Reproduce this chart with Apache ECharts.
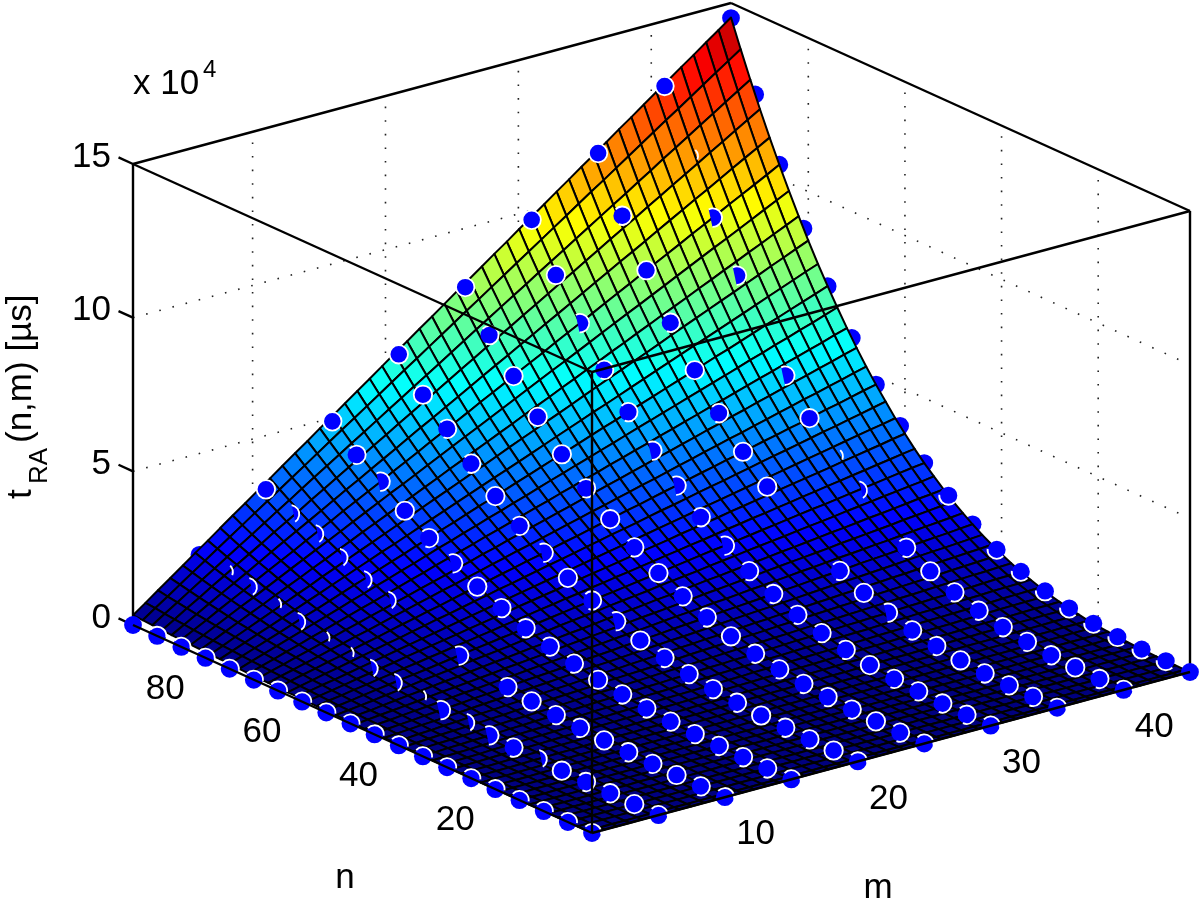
<!DOCTYPE html>
<html>
<head>
<meta charset="utf-8">
<script src="https://cdn.jsdelivr.net/npm/echarts@6/dist/echarts.min.js"></script>
<style>
html, body { margin: 0; padding: 0; background: #fff; }
#main { width: 1200px; height: 908px; }
</style>
</head>
<body>
<div id="main"></div>
<script>
// values of t are in units of 100 us (1500 = 15 x 10^4 us)
var nGrid = [1,2,4,6,8,10,12,14,16,18,20,22,24,26,28,30,32,34,36,38,40,42,44,46,48,50,52,54,56,58,60,62,64,66,68,70,72,74,76,78,80,82,84,86,88,90,92,94,96];
var mGrid = [1,1.94,2.88,3.81,4.75,5.69,6.63,7.56,8.5,9.44,10.38,11.31,12.25,13.19,14.13,15.06,16,16.94,17.88,18.81,19.75,20.69,21.63,22.56,23.5,24.44,25.38,26.31,27.25,28.19,29.13,30.06,31,31.94,32.88,33.81,34.75,35.69,36.63,37.56,38.5,39.44,40.38,41.31,42.25,43.19,44.13,45.06,46];

// one row per nGrid value, one column per mGrid value
var surfaceT = [
[0,0,0,0,0,0,0,0,0,0,0,0,0,0,0,0,0,0,0,0,0,0,0,0,0,0,0,0,0,0,0,0,0,0,0,0,0,0,0,0,0,0,0,0,0,0,0,0,0],
[0,0,0,0,0,0,0,0,0,0,0,0,0,0,0,0,0,0,0,0,0,0,0,0,0,0,0,0,0,0,0,0,0,0,0,0,0,0,0,0,0,0,0,0,0,0,0,0,0],
[0,0,0,0,0,0,0,0,0,0,0,0,0,0,0,0,0,0,0,0,0,0,0,0,0,0,0,0,0,0,0,0,0,0,0,0,0,0,0,0,0,0,0,0,0,0,0,0,0],
[0,0,0,0,0,0,0,0,0,0,0,0,0,0,0,0,0,0,0,0,0,0,0,0,0,0,0,0,0,0,0,0,0,0,0,0,0,0,0,0,0,0,0,0,0,0,0,0,0],
[0,0,0,0,0,0,0,0,0,0,0,0,0,0,0,0,0,0,0,0,0,0,0,0,0,0,0,0,0,1,1,1,1,1,1,1,1,1,1,1,1,1,1,1,1,1,1,1,1],
[0,0,0,0,0,0,0,0,0,0,0,0,0,0,1,1,1,1,1,1,1,1,1,1,1,1,1,1,1,1,1,1,1,1,1,1,1,1,1,1,1,1,1,1,2,2,2,2,2],
[0,0,0,0,0,0,0,0,1,1,1,1,1,1,1,1,1,1,1,1,1,1,1,1,1,2,2,2,2,2,2,2,2,2,2,2,2,2,2,2,2,2,2,3,3,3,3,3,3],
[0,0,0,0,0,1,1,1,1,1,1,1,1,1,1,1,2,2,2,2,2,2,2,2,2,2,2,3,3,3,3,3,3,3,3,3,3,3,4,4,4,4,4,4,4,4,4,4,5],
[0,0,0,1,1,1,1,1,1,1,2,2,2,2,2,2,2,2,3,3,3,3,3,3,3,4,4,4,4,4,4,4,5,5,5,5,5,5,5,5,6,6,6,6,6,6,6,7,7],
[0,0,1,1,1,1,1,2,2,2,2,2,3,3,3,3,3,4,4,4,4,4,5,5,5,5,5,5,6,6,6,6,6,7,7,7,7,7,8,8,8,8,8,9,9,9,9,9,10],
[0,1,1,1,1,2,2,2,2,3,3,3,3,4,4,4,5,5,5,5,6,6,6,6,7,7,7,8,8,8,8,9,9,9,9,10,10,10,10,11,11,11,12,12,12,12,13,13,13],
[0,1,1,1,2,2,3,3,3,4,4,4,5,5,5,6,6,6,7,7,8,8,8,9,9,9,10,10,10,11,11,11,12,12,13,13,13,14,14,14,15,15,15,16,16,16,17,17,17],
[0,1,1,2,2,3,3,4,4,5,5,6,6,7,7,7,8,8,9,9,10,10,11,11,12,12,13,13,13,14,14,15,15,16,16,17,17,18,18,19,19,19,20,20,21,21,22,22,23],
[1,1,2,2,3,4,4,5,5,6,7,7,8,8,9,9,10,11,11,12,12,13,14,14,15,15,16,17,17,18,18,19,19,20,21,21,22,22,23,24,24,25,25,26,27,27,28,28,29],
[1,2,2,3,4,4,5,6,7,7,8,9,10,10,11,12,13,13,14,15,15,16,17,18,18,19,20,21,21,22,23,24,24,25,26,27,27,28,29,29,30,31,32,32,33,34,35,35,36],
[1,2,3,4,5,5,6,7,8,9,10,11,12,13,14,15,15,16,17,18,19,20,21,22,23,24,24,25,26,27,28,29,30,31,32,33,34,34,35,36,37,38,39,40,41,42,43,43,44],
[1,2,3,4,6,7,8,9,10,11,12,13,14,15,17,18,19,20,21,22,23,24,25,26,27,29,30,31,32,33,34,35,36,37,38,40,41,42,43,44,45,46,47,48,49,51,52,53,54],
[1,3,4,5,7,8,9,11,12,13,15,16,17,19,20,21,22,24,25,26,28,29,30,32,33,34,36,37,38,40,41,42,44,45,46,47,49,50,51,53,54,55,57,58,59,61,62,63,65],
[2,3,5,6,8,9,11,13,14,16,17,19,20,22,24,25,27,28,30,31,33,34,36,38,39,41,42,44,45,47,49,50,52,53,55,56,58,59,61,63,64,66,67,69,70,72,74,75,77],
[2,4,6,7,9,11,13,15,17,18,20,22,24,26,28,30,31,33,35,37,39,41,42,44,46,48,50,52,53,55,57,59,61,63,64,66,68,70,72,74,75,77,79,81,83,85,86,88,90],
[2,4,7,9,11,13,15,17,19,22,24,26,28,30,32,34,37,39,41,43,45,47,49,52,54,56,58,60,62,64,67,69,71,73,75,77,79,82,84,86,88,90,92,94,97,99,101,103,105],
[3,5,8,10,13,15,18,20,22,25,27,30,32,35,37,40,42,45,47,50,52,55,57,60,62,65,67,70,72,75,77,80,82,84,87,89,92,94,97,99,102,104,107,109,112,114,117,119,122],
[3,6,9,12,14,17,20,23,26,29,32,34,37,40,43,46,49,52,54,57,60,63,66,69,71,74,77,80,83,86,89,91,94,97,100,103,106,109,111,114,117,120,123,126,129,131,134,137,140],
[3,7,10,13,17,20,23,26,30,33,36,39,43,46,49,52,56,59,62,65,69,72,75,78,82,85,88,91,95,98,101,104,108,111,114,118,121,124,127,131,134,137,140,144,147,150,153,157,160],
[4,8,11,15,19,22,26,30,34,37,41,45,48,52,56,59,63,67,71,74,78,82,85,89,93,97,100,104,108,111,115,119,122,126,130,134,137,141,145,148,152,156,159,163,167,171,174,178,182],
[4,9,13,17,21,25,30,34,38,42,46,50,55,59,63,67,71,76,80,84,88,92,97,101,105,109,113,117,122,126,130,134,138,143,147,151,155,159,163,168,172,176,180,184,189,193,197,201,205],
[5,10,14,19,24,29,33,38,43,47,52,57,62,66,71,76,80,85,90,94,99,104,109,113,118,123,127,132,137,142,146,151,156,160,165,170,174,179,184,189,193,198,203,207,212,217,222,226,231],
[6,11,16,21,27,32,37,43,48,53,58,64,69,74,79,85,90,95,101,106,111,116,122,127,132,137,143,148,153,158,164,169,174,180,185,190,195,201,206,211,216,222,227,232,238,243,248,253,259],
[6,12,18,24,30,36,42,47,53,59,65,71,77,83,89,94,100,106,112,118,124,130,136,141,147,153,159,165,171,177,183,189,194,200,206,212,218,224,230,236,241,247,253,259,265,271,277,283,288],
[7,14,20,27,33,40,46,53,59,66,72,79,85,92,98,105,111,118,125,131,138,144,151,157,164,170,177,183,190,196,203,209,216,223,229,236,242,249,255,262,268,275,281,288,294,301,307,314,320],
[8,15,22,29,37,44,51,58,66,73,80,87,94,102,109,116,123,131,138,145,152,160,167,174,181,188,196,203,210,217,225,232,239,246,254,261,268,275,283,290,297,304,311,319,326,333,340,348,355],
[9,17,25,32,40,48,56,64,72,80,88,96,104,112,120,128,136,144,152,160,168,176,184,192,200,208,216,224,232,240,248,256,264,272,280,288,296,304,312,320,328,336,344,352,360,368,376,383,391],
[9,18,27,36,44,53,62,71,80,88,97,106,115,123,132,141,150,159,167,176,185,194,202,211,220,229,238,246,255,264,273,281,290,299,308,316,325,334,343,352,360,369,378,387,395,404,413,422,431],
[10,20,30,39,49,58,68,78,87,97,107,116,126,135,145,155,164,174,184,193,203,212,222,232,241,251,261,270,280,289,299,309,318,328,338,347,357,366,376,386,395,405,414,424,434,443,453,463,472],
[11,22,32,43,53,64,74,85,95,106,117,127,138,148,159,169,180,190,201,211,222,232,243,253,264,274,285,295,306,316,327,337,348,359,369,380,390,401,411,422,432,443,453,464,474,485,495,506,516],
[12,24,35,47,58,70,81,93,104,116,127,139,150,162,173,184,196,207,219,230,242,253,265,276,288,299,311,322,334,345,357,368,380,391,403,414,426,437,449,460,472,483,495,506,517,529,540,552,563],
[13,26,38,51,63,76,88,101,113,126,138,151,163,176,188,201,213,226,238,251,263,276,288,301,313,326,338,351,363,376,388,401,413,426,438,451,463,476,488,501,513,526,538,551,563,576,588,601,613],
[14,28,42,55,69,82,96,109,123,137,150,164,177,191,204,218,232,245,259,272,286,299,313,326,340,354,367,381,394,408,421,435,449,462,476,489,503,516,530,543,557,571,584,598,611,625,638,652,666],
[16,30,45,60,74,89,104,118,133,148,163,177,192,207,221,236,251,266,280,295,310,324,339,354,368,383,398,412,427,442,457,471,486,501,515,530,545,559,574,589,603,618,633,648,662,677,692,706,721],
[17,33,49,65,80,96,112,128,144,160,176,192,208,224,239,255,271,287,303,319,335,351,367,382,398,414,430,446,462,478,494,509,525,541,557,573,589,605,621,636,652,668,684,700,716,732,748,764,779],
[18,35,53,70,87,104,121,138,155,173,190,207,224,241,258,275,292,310,327,344,361,378,395,412,430,447,464,481,498,515,533,550,567,584,601,618,635,653,670,687,704,721,738,755,772,790,807,824,841],
[20,38,57,75,94,112,131,149,167,186,204,223,241,260,278,296,315,333,352,370,389,407,426,444,463,481,500,518,536,555,573,592,610,629,647,666,684,703,721,739,758,776,795,813,832,850,869,887,906],
[21,41,61,81,101,120,140,160,180,200,220,239,259,279,299,319,339,358,378,398,418,438,458,477,497,517,537,557,577,597,616,636,656,676,696,716,735,755,775,795,815,835,855,874,894,914,934,954,974],
[23,44,65,87,108,129,151,172,193,214,236,257,278,300,321,342,363,385,406,427,449,470,491,512,534,555,576,598,619,640,662,683,704,725,747,768,789,811,832,853,874,896,917,938,960,981,1002,1023,1045],
[24,47,70,93,116,138,161,184,207,230,253,275,298,321,344,366,389,412,435,458,481,503,526,549,572,595,618,640,663,686,709,731,754,777,800,823,846,868,891,914,937,960,983,1005,1028,1051,1074,1096,1119],
[26,50,75,99,124,148,173,197,221,246,270,294,319,343,368,392,416,441,465,490,514,539,563,587,612,636,661,685,709,734,758,782,807,831,856,880,905,929,953,978,1002,1027,1051,1075,1100,1124,1149,1173,1197],
[28,54,80,106,132,158,184,210,236,262,289,314,341,367,393,419,445,471,497,523,549,575,601,627,653,680,706,732,758,784,810,836,862,888,914,940,966,992,1018,1044,1070,1097,1123,1149,1175,1201,1227,1253,1279],
[30,58,85,113,141,169,197,224,252,280,308,335,363,391,419,447,475,502,530,558,586,614,641,669,697,725,753,780,808,836,864,891,919,947,975,1003,1031,1058,1086,1114,1142,1170,1198,1225,1253,1281,1309,1336,1364],
[32,61,91,120,150,180,209,239,269,298,328,357,387,417,446,476,505,535,565,594,624,654,683,713,742,772,802,831,861,891,920,950,979,1009,1039,1068,1098,1127,1157,1187,1216,1246,1276,1305,1335,1364,1394,1423,1453]
];

// measured points
var dotN = [96,91,86,81,76,71,66,61,56,51,46,41,36,31,26,21,16,11,6,1];
var dotM = [1,6,11,16,21,26,31,36,41,46];
var dotT = [
[0,170,325,488,648,808,969,1128,1288,1451],
[0,150,280,415,552,688,825,960,1095,1238],
[0,136,250,363,477,590,704,818,931,1045],
[0,114,209,304,399,493,588,683,778,873],
[0,94,172,251,329,407,486,564,642,721],
[0,77,141,204,268,332,396,460,524,588],
[0,62,113,164,216,267,318,370,421,472],
[0,49,89,130,170,211,251,292,332,373],
[0,38,69,100,132,163,194,226,257,288],
[0,28,52,76,100,123,147,171,194,218],
[0,21,38,56,73,90,108,125,142,160],
[0,15,27,39,52,64,76,89,101,113],
[0,10,18,27,35,43,52,60,68,77],
[0,6,12,17,22,28,33,38,44,49],
[0,4,7,10,13,16,19,23,26,29],
[0,2,4,5,7,9,10,12,14,15],
[0,1,2,2,3,4,5,5,6,7],
[0,0,1,1,1,1,1,2,2,2],
[0,0,0,0,0,0,0,0,0,0],
[0,0,0,0,0,0,0,0,0,0]
];
// how much of each marker pokes out of the surface
// 0 hidden, 1 sliver, 2 thin crescent, 3 half, 4 ring gap, 5 whole,
// 6 ring on top, 7 behind surface, 8 ring below, 9 no ring
var dotShow = [
"9755555557",
"6124545417",
"6223453537",
"6125454437",
"6224554507",
"6123443437",
"6105353557",
"6204544517",
"6234453027",
"6104344008",
"6344544447",
"6255454558",
"6344444348",
"6444444448",
"6254445448",
"6544544548",
"6444444448",
"6454454458",
"6544544448",
"6666666669"
];

var nTicks = [20,40,60,80];
var mTicks = [10,20,30,40];
var tTicks = [0,500,1000,1500];
var tTickLabels = ["0","5","10","15"];

var nMin = 1, nMax = 96, mMin = 1, mMax = 46, tMax = 1500;

// orthographic view of the box, result is in the plot axes units
function project(n, m, t){
    return [
        592 - (n - nMin) * 459 / 95 + (m - mMin) * 598 / 45,
        833 - (n - nMin) * 208 / 95 - (m - mMin) * 161 / 45 - t * 461 / tMax
    ];
}

var jet = ['#00007f','#0000ff','#007fff','#00ffff','#7fff7f','#ffff00','#ff7f00','#ff0000','#7f0000'];

// surface cells, back to front
var cells = [];
for(var i = nGrid.length - 2; i >= 0; i--){
    for(var j = mGrid.length - 2; j >= 0; j--){
        cells.push([i, j, surfaceT[i][j]]);
    }
}

function renderCell(params, api){
    var i = api.value(0), j = api.value(1);
    var corners = [[i,j],[i+1,j],[i+1,j+1],[i,j+1]].map(function(c){
        return api.coord(project(nGrid[c[0]], mGrid[c[1]], surfaceT[c[0]][c[1]]));
    });
    return {
        type: 'polygon',
        shape: {points: corners},
        style: {fill: api.visual('color'), stroke: '#000', lineWidth: 2, lineJoin: 'round'}
    };
}

var underDots = [], topDots = [];
dotN.forEach(function(n, k){
    dotM.forEach(function(m, l){
        var kind = +dotShow[k][l];
        if(kind == 0) return;
        (kind == 7 ? underDots : topDots).push([n, m, dotT[k][l], kind]);
    });
});

// ring direction and half width for each marker kind, in degrees
var ringDir = {1:-12, 2:-12, 3:-12, 4:-12, 6:-65, 8:115};
var ringHalf = {1:32, 2:68, 3:105, 4:125, 6:72, 8:70};

function renderDot(params, api){
    var p = api.coord(project(api.value(0), api.value(1), api.value(2)));
    var kind = api.value(3);
    var r = 9.2;
    var children = [];
    if(kind >= 4){
        children.push({type: 'circle', shape: {cx: p[0], cy: p[1], r: kind == 5 ? r : r - 0.3},
            style: {fill: '#0000ff', stroke: kind == 5 ? '#fff' : null, lineWidth: 1.8}});
    }
    if(kind == 2 || kind == 3){
        var pts = [];
        for(var s = 0; s <= 16; s++){
            var a = (ringDir[kind] - ringHalf[kind] + s * ringHalf[kind] / 8) * Math.PI / 180;
            pts.push([p[0] + r * Math.cos(a), p[1] + r * Math.sin(a)]);
        }
        children.push({type: 'polygon', shape: {points: pts}, style: {fill: '#0000ff'}});
    }
    if(ringDir[kind] !== undefined){
        children.push({type: 'arc',
            shape: {cx: p[0], cy: p[1], r: r,
                startAngle: (ringDir[kind] - ringHalf[kind]) * Math.PI / 180,
                endAngle: (ringDir[kind] + ringHalf[kind]) * Math.PI / 180,
                clockwise: true},
            style: {stroke: '#fff', fill: null, lineWidth: 1.8}});
    }
    return {type: 'group', children: children};
}

function renderSegment(style){
    return function(params, api){
        var a = api.coord(project(api.value(0), api.value(1), api.value(2)));
        var b = api.coord(project(api.value(3), api.value(4), api.value(5)));
        return {type: 'line', shape: {x1: a[0], y1: a[1], x2: b[0], y2: b[1]}, style: style};
    };
}

// box edges behind and in front of the surface, ticks and dotted grid
var backEdges = [
    [nMax,mMin,tMax, nMax,mMax,tMax],
    [nMax,mMax,tMax, nMin,mMax,tMax],
    [nMax,mMin,0, nMax,mMin,tMax],
    [nMin,mMax,0, nMin,mMax,tMax]
];
var frontEdges = [
    [nMax,mMin,tMax, nMin,mMin,tMax],
    [nMin,mMin,tMax, nMin,mMax,tMax],
    [nMin,mMin,0, nMin,mMin,tMax],
    [nMax,mMin,0, nMin,mMin,0],
    [nMin,mMin,0, nMin,mMax,0]
];
var dotted = [];
mTicks.forEach(function(m){ dotted.push([nMax,m,0, nMax,m,tMax]); });
nTicks.forEach(function(n){ dotted.push([n,mMax,0, n,mMax,tMax]); });
tTicks.slice(1, 3).forEach(function(t){
    dotted.push([nMax,mMin,t, nMax,mMax,t]);
    dotted.push([nMax,mMax,t, nMin,mMax,t]);
});
var zTickMarks = tTicks.map(function(t){ return [nMax,mMin,t, nMax + 3,mMin,t]; });

function label(text, x, y, size, align){
    return {type: 'text', silent: true, z: 100,
        style: {text: text, x: x, y: y, fill: '#000', align: align || 'center', verticalAlign: 'middle',
            font: size + 'px "Liberation Sans", Arial, sans-serif'}};
}
function sideLabel(text, x, y, size){
    return {type: 'text', silent: true, z: 100, x: x, y: y, rotation: Math.PI / 2,
        style: {text: text, x: 0, y: 0, fill: '#000', align: 'left', verticalAlign: 'middle',
            font: size + 'px "Liberation Sans", Arial, sans-serif'}};
}

var texts = [];
tTicks.forEach(function(t, k){
    var p = project(nMax, mMin, t);
    texts.push(label(tTickLabels[k], p[0] - 22, p[1] - 7, 35, 'right'));
});
nTicks.forEach(function(n){
    var p = project(n, mMin, 0);
    texts.push(label(String(n), p[0] - 45, p[1] + 29, 35));
});
mTicks.forEach(function(m){
    var p = project(nMin, m, 0);
    texts.push(label(String(m), p[0] + 44, p[1] + 34, 35));
});
texts.push(label('n', 345, 878, 35));
texts.push(label('m', 878, 888, 35));
texts.push(label('x 10', 133, 84, 35, 'left'));
texts.push(label('4', 203, 70, 24, 'left'));
texts.push(sideLabel('t', 21, 499, 35));
texts.push(sideLabel('RA', 40, 484, 26));
texts.push(sideLabel('(n,m) [µs]', 21, 443, 35));

var solid = {stroke: '#000', lineWidth: 2.4};
var myChart = echarts.init(document.getElementById('main'), null, {renderer: 'canvas'});
var option = {
    animation: false,
    backgroundColor: '#fff',
    grid: {left: 0, right: 0, top: 0, bottom: 0},
    xAxis: {type: 'value', min: 0, max: 1200, show: false},
    yAxis: {type: 'value', min: 0, max: 908, inverse: true, show: false},
    visualMap: {show: false, type: 'continuous', seriesIndex: 4, dimension: 2, min: 0, max: 1453, inRange: {color: jet}},
    graphic: {elements: texts},
    series: [
        {type: 'custom', z: 1, silent: true, clip: false, progressive: 0, data: dotted,
            renderItem: renderSegment({stroke: '#222', lineWidth: 1.6, lineDash: [1.6, 12]})},
        {type: 'custom', z: 2, silent: true, clip: false, progressive: 0, data: backEdges,
            renderItem: renderSegment(solid)},
        {type: 'custom', z: 2, silent: true, clip: false, progressive: 0, data: zTickMarks,
            renderItem: renderSegment(solid)},
        {type: 'custom', z: 3, silent: true, clip: false, progressive: 0, data: underDots,
            renderItem: renderDot},
        {type: 'custom', z: 4, silent: true, clip: false, progressive: 0, data: cells,
            renderItem: renderCell},
        {type: 'custom', z: 5, silent: true, clip: false, progressive: 0, data: topDots,
            renderItem: renderDot},
        {type: 'custom', z: 6, silent: true, clip: false, progressive: 0, data: frontEdges,
            renderItem: renderSegment(solid)}
    ]
};
myChart.setOption(option);
</script>
</body>
</html>
